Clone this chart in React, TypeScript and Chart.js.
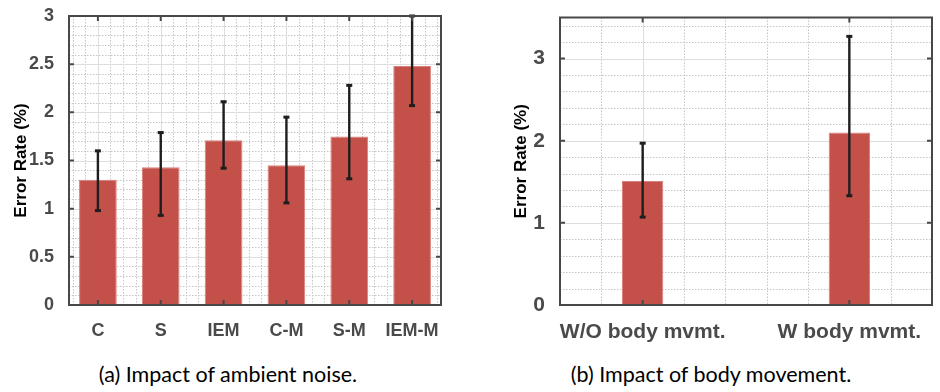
import React, { useEffect, useRef } from 'react';
import { Chart, registerables } from 'chart.js';

Chart.register(...registerables);

// ---------- data ----------
const noiseCategories = ['C', 'S', 'IEM', 'C-M', 'S-M', 'IEM-M'];
const noiseMean = [1.30, 1.43, 1.71, 1.45, 1.75, 2.48];
const noiseLow = [0.98, 0.93, 1.42, 1.06, 1.31, 2.07];
const noiseHigh = [1.60, 1.79, 2.11, 1.95, 2.28, 3.0];
const noiseYTicks = [0, 0.5, 1, 1.5, 2, 2.5, 3];

const moveCategories = ['W/O body mvmt.', 'W body mvmt.'];
const moveMean = [1.51, 2.10];
const moveLow = [1.07, 1.33];
const moveHigh = [1.97, 3.27];
const moveYTicks = [0, 1, 2, 3];

const yTitle = 'Error Rate (%)';
const captions = ['(a) Impact of ambient noise.', '(b) Impact of body movement.'];

// ---------- panel settings ----------
type Panel = {
  categories: string[];
  mean: number[];
  low: number[];
  high: number[];
  yTicks: number[];
  yMax: number;
  xMin: number;
  xMax: number;
  xMinor: number;
  yMinor: number;
  barPct: number;
  tickFont: number;
  xFont: number;
  yAxisW: number;
  padRight: number;
  titlePad: number;
};

const panels: Panel[] = [
  {
    categories: noiseCategories, mean: noiseMean, low: noiseLow, high: noiseHigh,
    yTicks: noiseYTicks, yMax: 3, xMin: 0.54, xMax: 6.46, xMinor: 0.2, yMinor: 0.1,
    barPct: 0.6, tickFont: 18, xFont: 18, yAxisW: 69, padRight: 29, titlePad: 11,
  },
  {
    categories: moveCategories, mean: moveMean, low: moveLow, high: moveHigh,
    yTicks: moveYTicks, yMax: 3.5, xMin: 0.6, xMax: 2.4, xMinor: 0.2, yMinor: 0.2,
    barPct: 0.2, tickFont: 21, xFont: 21, yAxisW: 90, padRight: 8, titlePad: 41,
  },
];

const CANVAS_W = 470;
const CANVAS_H = 345;
const FONT = '"Liberation Sans", Arial, Helvetica, sans-serif';

function isMultiple(v: number, step: number) {
  const r = v / step;
  return Math.abs(r - Math.round(r)) < 1e-6;
}

function makeChart(canvas: HTMLCanvasElement, p: Panel) {
  const decor = {
    id: 'decor',
    beforeDatasetsDraw(chart: any) {
      const { ctx, chartArea: a, scales } = chart;
      const x = scales.x, y = scales.y;
      const majorY = p.yTicks.length > 1 ? p.yTicks[1] - p.yTicks[0] : 1;
      ctx.save();
      // minor dotted grid
      ctx.strokeStyle = '#c6c6c6';
      ctx.lineWidth = 1;
      ctx.setLineDash([1.5, 1.5]);
      const ny = Math.round(p.yMax / p.yMinor);
      for (let i = 1; i < ny; i++) {
        const v = i * p.yMinor;
        if (isMultiple(v, majorY)) continue;
        const py = Math.round(y.getPixelForValue(v)) + 0.5;
        ctx.beginPath(); ctx.moveTo(a.left, py); ctx.lineTo(a.right, py); ctx.stroke();
      }
      const startI = Math.ceil(p.xMin / p.xMinor - 1e-6);
      const endI = Math.floor(p.xMax / p.xMinor + 1e-6);
      for (let i = startI; i <= endI; i++) {
        const v = i * p.xMinor;
        if (isMultiple(v, 1)) continue;
        const px = Math.round(x.getPixelForValue(v)) + 0.5;
        ctx.beginPath(); ctx.moveTo(px, a.top); ctx.lineTo(px, a.bottom); ctx.stroke();
      }
      // major solid grid
      ctx.setLineDash([]);
      ctx.strokeStyle = '#dedede';
      p.yTicks.forEach((v) => {
        const py = Math.round(y.getPixelForValue(v)) + 0.5;
        ctx.beginPath(); ctx.moveTo(a.left, py); ctx.lineTo(a.right, py); ctx.stroke();
      });
      p.categories.forEach((_, i) => {
        const px = Math.round(x.getPixelForValue(i + 1)) + 0.5;
        ctx.beginPath(); ctx.moveTo(px, a.top); ctx.lineTo(px, a.bottom); ctx.stroke();
      });
      ctx.restore();
    },
    afterDatasetsDraw(chart: any) {
      const { ctx, chartArea: a, scales } = chart;
      const x = scales.x, y = scales.y;
      ctx.save();
      // error bars
      ctx.strokeStyle = '#1e1e1e';
      ctx.fillStyle = '#1e1e1e';
      ctx.lineWidth = 2.4;
      p.categories.forEach((_, i) => {
        const px = x.getPixelForValue(i + 1);
        const yl = y.getPixelForValue(p.low[i]);
        const yh = y.getPixelForValue(p.high[i]);
        ctx.beginPath(); ctx.moveTo(px, yl); ctx.lineTo(px, yh); ctx.stroke();
        ctx.fillRect(px - 3, yl - 1.5, 6, 3);
        ctx.fillRect(px - 3, yh - 1.5, 6, 3);
      });
      // frame
      ctx.strokeStyle = '#484848';
      ctx.lineWidth = 2;
      ctx.strokeRect(a.left, a.top, a.right - a.left, a.bottom - a.top);
      // inward ticks
      const tl = 5;
      ctx.beginPath();
      p.yTicks.forEach((v) => {
        const py = y.getPixelForValue(v);
        ctx.moveTo(a.left, py); ctx.lineTo(a.left + tl, py);
        ctx.moveTo(a.right, py); ctx.lineTo(a.right - tl, py);
      });
      p.categories.forEach((_, i) => {
        const px = x.getPixelForValue(i + 1);
        ctx.moveTo(px, a.top); ctx.lineTo(px, a.top + tl);
        ctx.moveTo(px, a.bottom); ctx.lineTo(px, a.bottom - tl);
      });
      ctx.stroke();
      ctx.restore();
    },
  };

  return new Chart(canvas, {
    type: 'bar',
    data: {
      datasets: [
        {
          data: p.mean.map((m, i) => ({ x: i + 1, y: m })),
          backgroundColor: '#C4504A',
          borderColor: '#D9817B',
          borderWidth: 1,
          barPercentage: p.barPct,
          categoryPercentage: 1,
        },
      ],
    },
    options: {
      animation: false,
      responsive: false,
      maintainAspectRatio: false,
      layout: { padding: { left: 0, top: 11, right: p.padRight, bottom: 0 } },
      plugins: { legend: { display: false }, tooltip: { enabled: false } },
      scales: {
        x: {
          type: 'linear',
          min: p.xMin,
          max: p.xMax,
          offset: false,
          grid: { display: false },
          border: { display: false },
          afterBuildTicks: (s: any) => {
            s.ticks = p.categories.map((_, i) => ({ value: i + 1 }));
          },
          afterFit: (s: any) => {
            s.height = CANVAS_H - 305;
          },
          ticks: {
            autoSkip: false,
            maxRotation: 0,
            minRotation: 0,
            padding: 7,
            color: '#4a4a4a',
            font: { family: FONT, weight: 'bold', size: p.xFont },
            callback: (v: any) => p.categories[Math.round(Number(v)) - 1] ?? '',
          },
        },
        y: {
          type: 'linear',
          min: 0,
          max: p.yMax,
          grid: { display: false },
          border: { display: false },
          afterBuildTicks: (s: any) => {
            s.ticks = p.yTicks.map((v) => ({ value: v }));
          },
          afterFit: (s: any) => {
            s.width = p.yAxisW;
          },
          ticks: {
            padding: 7,
            color: '#4a4a4a',
            font: { family: FONT, weight: 'bold', size: p.tickFont, lineHeight: 1 },
            callback: (v: any) => String(v),
          },
          title: {
            display: true,
            text: yTitle,
            color: '#000',
            font: { family: FONT, weight: 'bold', size: 17 },
            padding: { top: p.titlePad, bottom: 0 },
          },
        },
      },
    },
    plugins: [decor],
  } as any);
}

function Panel({ p, left }: { p: Panel; left: number }) {
  const ref = useRef<HTMLCanvasElement>(null);
  useEffect(() => {
    if (!ref.current) return;
    const c = makeChart(ref.current, p);
    return () => c.destroy();
  }, [p]);
  return (
    <canvas
      ref={ref}
      width={CANVAS_W}
      height={CANVAS_H}
      style={{ position: 'absolute', left, top: 0, width: CANVAS_W, height: CANVAS_H }}
    />
  );
}

const captionStyle: React.CSSProperties = {
  position: 'absolute',
  top: 362,
  width: 340,
  textAlign: 'center',
  fontFamily: 'Lato, "Open Sans", sans-serif',
  fontSize: 21.5,
  lineHeight: '24px',
  color: '#000',
  whiteSpace: 'nowrap',
};

export default function App() {
  return (
    <div
      style={{
        position: 'fixed',
        left: 0,
        top: 0,
        width: 940,
        height: 392,
        background: '#fff',
        overflow: 'hidden',
      }}
    >
      <Panel p={panels[0]} left={0} />
      <Panel p={panels[1]} left={470} />
      <div style={{ ...captionStyle, left: 228 - 170 }}>{captions[0]}</div>
      <div style={{ ...captionStyle, left: 711 - 170 }}>{captions[1]}</div>
    </div>
  );
}
